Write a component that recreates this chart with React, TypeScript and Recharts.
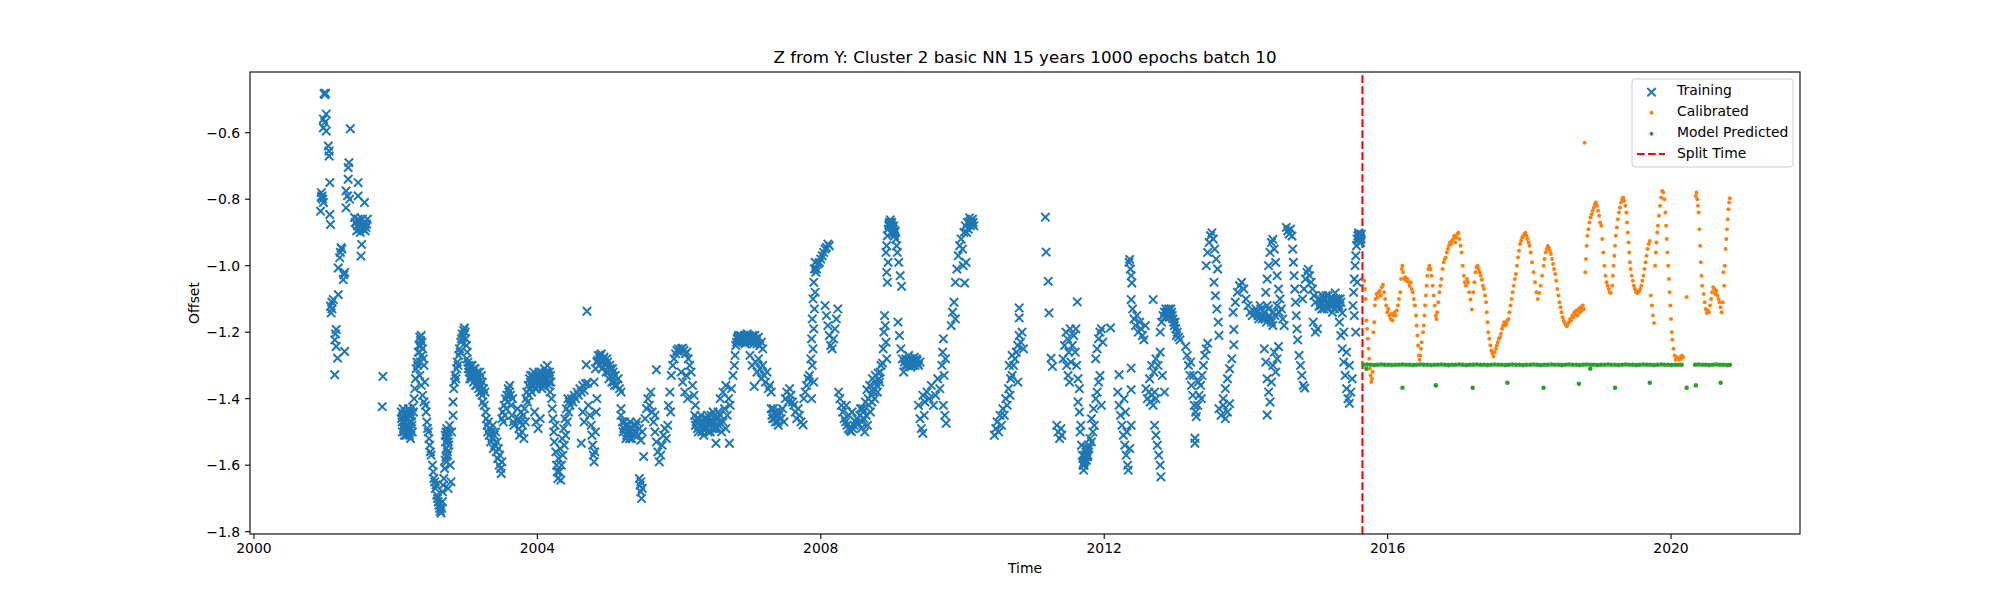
import { ScatterChart, Scatter, XAxis, YAxis, ReferenceLine } from 'recharts';

type Pt = [number, number];

const xTicks = [2000, 2004, 2008, 2012, 2016, 2020];
const yTicks = [-1.8, -1.6, -1.4, -1.2, -1.0, -0.8, -0.6];
const splitTime = 2015.645;

// Training (blue x), [decimal year, offset]
const training2001: Pt[] = [
  [2000.99, -0.482], [2001.0, -0.485], [2001.01, -0.481],
  [2001.02, -0.544], [2000.98, -0.559], [2001.0, -0.569], [2000.98, -0.585], [2001.02, -0.595],
  [2001.05, -0.64], [2001.06, -0.655], [2001.06, -0.67], [2001.07, -0.75],
  [2000.95, -0.78], [2000.96, -0.79], [2000.95, -0.795], [2000.98, -0.81], [2000.94, -0.836], [2001.07, -0.846], [2001.08, -0.876], [2000.97, -0.8],
  [2001.23, -0.946], [2001.24, -0.95], [2001.22, -0.96], [2001.21, -0.976], [2001.19, -1.007], [2001.27, -1.027], [2001.28, -1.02], [2001.26, -1.042],
  [2001.19, -1.087], [2001.12, -1.102], [2001.1, -1.11], [2001.08, -1.122], [2001.09, -1.142], [2001.1, -1.13],
  [2001.16, -1.192], [2001.15, -1.205], [2001.14, -1.223], [2001.16, -1.243], [2001.18, -1.278], [2001.28, -1.258], [2001.14, -1.328],
  [2001.36, -0.588],
  [2001.34, -0.69], [2001.33, -0.705], [2001.33, -0.74], [2001.3, -0.775], [2001.35, -0.8], [2001.3, -0.826], [2001.32, -0.79],
  [2001.47, -0.75], [2001.47, -0.79], [2001.56, -0.81],
  [2001.42, -0.855], [2001.44, -0.87], [2001.46, -0.88], [2001.48, -0.865], [2001.5, -0.885], [2001.52, -0.875], [2001.54, -0.89], [2001.56, -0.87], [2001.58, -0.885], [2001.6, -0.86], [2001.45, -0.895], [2001.5, -0.9],
  [2001.43, -0.87], [2001.47, -0.86], [2001.49, -0.89], [2001.53, -0.86], [2001.55, -0.88], [2001.57, -0.895], [2001.59, -0.875],
  [2001.52, -0.936], [2001.51, -0.971],
  [2001.82, -1.333], [2001.81, -1.424],
];

const training2002: Pt[] = [
  [2002.08, -1.44], [2002.09, -1.47], [2002.1, -1.455], [2002.11, -1.49], [2002.12, -1.5], [2002.13, -1.475], [2002.14, -1.445], [2002.15, -1.51], [2002.16, -1.485],
  [2002.17, -1.46], [2002.18, -1.43], [2002.19, -1.495], [2002.2, -1.47], [2002.21, -1.52], [2002.22, -1.45], [2002.23, -1.48], [2002.24, -1.425], [2002.25, -1.44],
  [2002.085, -1.46], [2002.095, -1.5], [2002.105, -1.43], [2002.115, -1.47], [2002.125, -1.51], [2002.135, -1.44], [2002.145, -1.49], [2002.155, -1.46],
  [2002.165, -1.5], [2002.175, -1.48], [2002.185, -1.45], [2002.195, -1.51], [2002.205, -1.44], [2002.215, -1.49], [2002.225, -1.47], [2002.235, -1.5],
  [2002.26, -1.4], [2002.27, -1.37], [2002.28, -1.34], [2002.29, -1.31], [2002.3, -1.29], [2002.31, -1.3], [2002.32, -1.26], [2002.33, -1.24], [2002.34, -1.215],
  [2002.35, -1.225], [2002.36, -1.21], [2002.37, -1.23], [2002.38, -1.25], [2002.39, -1.28], [2002.4, -1.3], [2002.34, -1.33], [2002.36, -1.36], [2002.38, -1.39], [2002.4, -1.41],
  [2002.335, -1.26], [2002.345, -1.29], [2002.355, -1.24], [2002.365, -1.27],
  [2002.41, -1.35], [2002.42, -1.42], [2002.43, -1.44], [2002.44, -1.47], [2002.45, -1.49], [2002.46, -1.5], [2002.47, -1.52], [2002.48, -1.54], [2002.49, -1.56], [2002.5, -1.57],
  [2002.52, -1.6], [2002.53, -1.62], [2002.54, -1.64], [2002.55, -1.65], [2002.56, -1.67], [2002.57, -1.66], [2002.58, -1.69], [2002.59, -1.7], [2002.6, -1.71],
  [2002.61, -1.72], [2002.62, -1.73], [2002.63, -1.738], [2002.64, -1.744], [2002.65, -1.73], [2002.66, -1.71],
  [2002.66, -1.68], [2002.67, -1.66], [2002.68, -1.64], [2002.69, -1.61], [2002.7, -1.585], [2002.71, -1.575], [2002.72, -1.59], [2002.73, -1.56], [2002.7, -1.51],
  [2002.71, -1.5], [2002.72, -1.49], [2002.73, -1.52], [2002.74, -1.5], [2002.75, -1.54], [2002.76, -1.48], [2002.77, -1.6], [2002.78, -1.65], [2002.79, -1.5], [2002.74, -1.67],
  [2002.705, -1.53], [2002.715, -1.55], [2002.725, -1.51], [2002.735, -1.57], [2002.745, -1.53],
  [2002.81, -1.41], [2002.81, -1.45],
  [2002.82, -1.37], [2002.83, -1.35], [2002.84, -1.33], [2002.85, -1.34], [2002.86, -1.31], [2002.87, -1.29], [2002.88, -1.3], [2002.89, -1.27], [2002.9, -1.25],
  [2002.91, -1.26], [2002.92, -1.23], [2002.93, -1.22], [2002.94, -1.205], [2002.95, -1.215], [2002.96, -1.195], [2002.97, -1.187], [2002.98, -1.2], [2002.99, -1.22],
];

const training2003: Pt[] = [
  [2003.0, -1.24], [2003.01, -1.26], [2003.02, -1.29], [2003.03, -1.3], [2003.04, -1.32], [2003.05, -1.31], [2003.06, -1.33], [2003.07, -1.34], [2003.08, -1.3],
  [2003.09, -1.32], [2003.1, -1.35], [2003.11, -1.33], [2003.12, -1.31], [2003.13, -1.34], [2003.14, -1.36], [2003.15, -1.32], [2003.16, -1.34], [2003.17, -1.37],
  [2003.18, -1.35], [2003.19, -1.38], [2003.2, -1.36], [2003.21, -1.33], [2003.22, -1.39], [2003.23, -1.41], [2003.24, -1.37], [2003.25, -1.42], [2003.26, -1.38], [2003.27, -1.44],
  [2003.005, -1.28], [2003.025, -1.31], [2003.045, -1.34], [2003.065, -1.3], [2003.085, -1.33], [2003.105, -1.31], [2003.125, -1.36], [2003.145, -1.33],
  [2003.165, -1.35], [2003.185, -1.32], [2003.205, -1.38], [2003.225, -1.35],
  [2003.28, -1.46], [2003.29, -1.48], [2003.3, -1.5], [2003.31, -1.47], [2003.32, -1.51], [2003.33, -1.49], [2003.34, -1.53], [2003.35, -1.5], [2003.36, -1.52],
  [2003.37, -1.48], [2003.38, -1.55], [2003.39, -1.51], [2003.4, -1.54], [2003.41, -1.5], [2003.42, -1.56], [2003.43, -1.53], [2003.44, -1.58], [2003.45, -1.55],
  [2003.46, -1.6], [2003.47, -1.57], [2003.48, -1.61], [2003.49, -1.625], [2003.5, -1.59],
  [2003.5, -1.46], [2003.51, -1.44], [2003.52, -1.47], [2003.53, -1.42], [2003.54, -1.45], [2003.55, -1.4], [2003.56, -1.43], [2003.57, -1.39], [2003.58, -1.41],
  [2003.59, -1.37], [2003.6, -1.38], [2003.61, -1.36], [2003.62, -1.39], [2003.63, -1.42], [2003.64, -1.45], [2003.65, -1.4], [2003.66, -1.47], [2003.67, -1.48],
  [2003.72, -1.43], [2003.73, -1.46], [2003.74, -1.49], [2003.75, -1.51], [2003.76, -1.47], [2003.77, -1.44], [2003.78, -1.5], [2003.79, -1.48], [2003.8, -1.45],
  [2003.81, -1.52], [2003.82, -1.43], [2003.83, -1.47],
  [2003.84, -1.4], [2003.85, -1.38], [2003.86, -1.41], [2003.87, -1.36], [2003.88, -1.39], [2003.89, -1.34], [2003.9, -1.37], [2003.91, -1.35], [2003.92, -1.38],
  [2003.93, -1.33], [2003.94, -1.36], [2003.95, -1.34], [2003.96, -1.44], [2003.97, -1.37], [2003.98, -1.47], [2003.99, -1.35],
  [2003.905, -1.33], [2003.925, -1.36], [2003.945, -1.32], [2003.965, -1.35], [2003.985, -1.37],
];

const training2004: Pt[] = [
  [2004.0, -1.34], [2004.01, -1.49], [2004.02, -1.36], [2004.03, -1.33], [2004.04, -1.46], [2004.05, -1.35], [2004.06, -1.32], [2004.07, -1.34], [2004.08, -1.36],
  [2004.09, -1.33], [2004.1, -1.31], [2004.11, -1.35], [2004.12, -1.32], [2004.13, -1.34], [2004.14, -1.3], [2004.15, -1.33], [2004.16, -1.36], [2004.17, -1.32],
  [2004.18, -1.38], [2004.19, -1.35], [2004.2, -1.4],
  [2004.005, -1.36], [2004.025, -1.32], [2004.045, -1.34], [2004.065, -1.37], [2004.085, -1.33], [2004.105, -1.36], [2004.125, -1.34], [2004.145, -1.32],
  [2004.165, -1.35], [2004.185, -1.33],
  [2004.21, -1.43], [2004.22, -1.46], [2004.23, -1.5], [2004.24, -1.53], [2004.25, -1.48], [2004.26, -1.56], [2004.27, -1.6], [2004.28, -1.62], [2004.29, -1.64],
  [2004.3, -1.58], [2004.31, -1.62], [2004.32, -1.55], [2004.33, -1.645], [2004.34, -1.6], [2004.35, -1.52], [2004.36, -1.57], [2004.37, -1.49], [2004.38, -1.54],
  [2004.39, -1.46], [2004.4, -1.51], [2004.41, -1.43], [2004.42, -1.47], [2004.43, -1.4], [2004.44, -1.44], [2004.45, -1.41],
  [2004.46, -1.42], [2004.48, -1.4], [2004.5, -1.41], [2004.52, -1.39], [2004.54, -1.4], [2004.56, -1.38], [2004.58, -1.39], [2004.6, -1.37], [2004.62, -1.38],
  [2004.64, -1.36], [2004.66, -1.375], [2004.68, -1.355], [2004.62, -1.534], [2004.64, -1.44], [2004.66, -1.47],
  [2004.7, -1.137], [2004.69, -1.298], [2004.71, -1.353],
  [2004.72, -1.42], [2004.74, -1.45], [2004.76, -1.48], [2004.77, -1.51], [2004.78, -1.54], [2004.79, -1.57], [2004.8, -1.59], [2004.81, -1.56], [2004.82, -1.5],
  [2004.83, -1.44], [2004.84, -1.4],
  [2004.8, -1.35], [2004.82, -1.31], [2004.84, -1.29], [2004.86, -1.27], [2004.88, -1.28], [2004.9, -1.265], [2004.92, -1.29], [2004.94, -1.275], [2004.96, -1.3],
  [2004.98, -1.28],
  [2004.85, -1.285], [2004.87, -1.3], [2004.89, -1.27], [2004.91, -1.31], [2004.93, -1.28], [2004.95, -1.295], [2004.97, -1.32], [2004.99, -1.29],
];

const training2005: Pt[] = [
  [2005.0, -1.32], [2005.02, -1.3], [2005.04, -1.33], [2005.06, -1.31], [2005.08, -1.35], [2005.1, -1.33], [2005.12, -1.36], [2005.14, -1.34], [2005.16, -1.37], [2005.18, -1.38],
  [2005.01, -1.34], [2005.03, -1.31], [2005.05, -1.35], [2005.07, -1.32], [2005.09, -1.36],
  [2005.18, -1.43], [2005.18, -1.45],
  [2005.2, -1.47], [2005.22, -1.49], [2005.24, -1.48], [2005.26, -1.51], [2005.28, -1.495], [2005.3, -1.52], [2005.32, -1.49], [2005.34, -1.505], [2005.36, -1.48],
  [2005.38, -1.5], [2005.4, -1.47], [2005.42, -1.51], [2005.44, -1.49], [2005.46, -1.525], [2005.48, -1.5], [2005.5, -1.574],
  [2005.21, -1.5], [2005.23, -1.47], [2005.25, -1.52], [2005.27, -1.48], [2005.29, -1.5], [2005.31, -1.47], [2005.33, -1.52], [2005.35, -1.49], [2005.37, -1.51], [2005.39, -1.48],
  [2005.44, -1.64], [2005.45, -1.66], [2005.46, -1.68], [2005.47, -1.7], [2005.48, -1.67], [2005.46, -1.65],
  [2005.52, -1.46], [2005.54, -1.43], [2005.56, -1.4], [2005.58, -1.42], [2005.6, -1.38], [2005.62, -1.44], [2005.64, -1.47], [2005.66, -1.45], [2005.68, -1.313],
  [2005.66, -1.5], [2005.68, -1.53], [2005.7, -1.56], [2005.72, -1.59], [2005.74, -1.57], [2005.76, -1.54], [2005.78, -1.51], [2005.8, -1.49], [2005.82, -1.52], [2005.84, -1.48],
  [2005.85, -1.42], [2005.87, -1.38], [2005.88, -1.44],
  [2005.89, -1.33], [2005.91, -1.3], [2005.93, -1.28], [2005.95, -1.265], [2005.97, -1.255], [2005.99, -1.25],
];

const training2006: Pt[] = [
  [2006.01, -1.26], [2006.03, -1.25], [2006.05, -1.248], [2006.07, -1.255], [2006.09, -1.265], [2006.11, -1.26], [2006.13, -1.28], [2006.15, -1.3], [2006.17, -1.32],
  [2006.03, -1.32], [2006.05, -1.35], [2006.08, -1.38], [2006.1, -1.33],
  [2006.19, -1.36], [2006.21, -1.39], [2006.23, -1.42], [2006.12, -1.4],
  [2006.22, -1.45], [2006.24, -1.47], [2006.26, -1.49], [2006.28, -1.46], [2006.3, -1.48], [2006.32, -1.5], [2006.34, -1.47], [2006.36, -1.46], [2006.38, -1.49],
  [2006.4, -1.45], [2006.42, -1.48], [2006.44, -1.5], [2006.46, -1.47], [2006.48, -1.44], [2006.5, -1.49], [2006.52, -1.534], [2006.54, -1.46], [2006.56, -1.48],
  [2006.58, -1.45], [2006.6, -1.5], [2006.62, -1.47], [2006.64, -1.43], [2006.66, -1.49], [2006.68, -1.45], [2006.71, -1.534],
  [2006.23, -1.48], [2006.25, -1.46], [2006.27, -1.5], [2006.29, -1.47], [2006.31, -1.45], [2006.33, -1.49], [2006.35, -1.51], [2006.37, -1.48], [2006.39, -1.46],
  [2006.41, -1.5], [2006.43, -1.47], [2006.45, -1.45], [2006.47, -1.49], [2006.49, -1.47], [2006.51, -1.46], [2006.53, -1.49], [2006.55, -1.44], [2006.57, -1.47],
  [2006.58, -1.4], [2006.62, -1.38], [2006.66, -1.36], [2006.7, -1.4], [2006.72, -1.42], [2006.74, -1.37], [2006.76, -1.33], [2006.78, -1.3], [2006.79, -1.27],
  [2006.8, -1.24], [2006.82, -1.22], [2006.84, -1.21], [2006.86, -1.225], [2006.88, -1.215], [2006.9, -1.23], [2006.92, -1.21], [2006.94, -1.22], [2006.96, -1.205], [2006.98, -1.225],
  [2006.81, -1.23], [2006.83, -1.215], [2006.85, -1.23], [2006.87, -1.21], [2006.89, -1.225], [2006.91, -1.215], [2006.93, -1.235], [2006.95, -1.215], [2006.97, -1.23], [2006.99, -1.21],
];

const training2007: Pt[] = [
  [2007.0, -1.215], [2007.02, -1.23], [2007.04, -1.21], [2007.06, -1.225], [2007.08, -1.22], [2007.1, -1.235], [2007.12, -1.215], [2007.14, -1.24], [2007.16, -1.23], [2007.18, -1.25],
  [2007.01, -1.225], [2007.03, -1.215], [2007.05, -1.235], [2007.07, -1.21], [2007.09, -1.225],
  [2007.0, -1.27], [2007.03, -1.3], [2007.06, -1.363], [2007.08, -1.29], [2007.1, -1.32], [2007.12, -1.28], [2007.14, -1.31], [2007.16, -1.34], [2007.18, -1.3],
  [2007.2, -1.33], [2007.22, -1.35], [2007.24, -1.32], [2007.26, -1.37], [2007.28, -1.36], [2007.3, -1.38],
  [2007.3, -1.43], [2007.32, -1.46], [2007.34, -1.445], [2007.36, -1.47], [2007.38, -1.45], [2007.4, -1.48], [2007.42, -1.44], [2007.44, -1.46], [2007.46, -1.43], [2007.48, -1.47],
  [2007.31, -1.45], [2007.33, -1.43], [2007.35, -1.46], [2007.37, -1.44], [2007.39, -1.47], [2007.41, -1.45],
  [2007.5, -1.4], [2007.52, -1.38], [2007.54, -1.41], [2007.56, -1.37], [2007.58, -1.39], [2007.6, -1.41], [2007.62, -1.42],
  [2007.64, -1.44], [2007.66, -1.46], [2007.68, -1.43], [2007.7, -1.45], [2007.72, -1.47], [2007.75, -1.479],
  [2007.76, -1.4], [2007.78, -1.38], [2007.8, -1.36], [2007.82, -1.34], [2007.84, -1.33],
  [2007.86, -1.28], [2007.87, -1.22], [2007.88, -1.16], [2007.89, -1.1], [2007.9, -1.05], [2007.91, -1.01], [2007.92, -0.99], [2007.88, -1.3], [2007.89, -1.25],
  [2007.9, -1.19], [2007.91, -1.13], [2007.92, -1.08], [2007.87, -1.4], [2007.9, -1.35], [2007.93, -1.02],
  [2007.94, -1.01], [2007.96, -0.995], [2007.98, -0.99],
];

const training2008: Pt[] = [
  [2008.0, -0.98], [2008.02, -0.97], [2008.04, -0.96], [2008.06, -0.95], [2008.08, -0.945], [2008.1, -0.935], [2008.12, -0.94],
  [2008.06, -1.12], [2008.08, -1.15], [2008.1, -1.18], [2008.12, -1.21], [2008.14, -1.24], [2008.16, -1.25], [2008.18, -1.22], [2008.2, -1.19], [2008.22, -1.16], [2008.24, -1.13],
  [2008.25, -1.38], [2008.27, -1.4], [2008.29, -1.42], [2008.31, -1.44], [2008.33, -1.46], [2008.35, -1.47], [2008.37, -1.48], [2008.39, -1.49], [2008.41, -1.495],
  [2008.43, -1.499], [2008.45, -1.49], [2008.47, -1.48], [2008.49, -1.47], [2008.51, -1.46], [2008.36, -1.42], [2008.4, -1.45], [2008.44, -1.44],
  [2008.53, -1.474], [2008.55, -1.45], [2008.57, -1.49], [2008.59, -1.43], [2008.61, -1.46], [2008.63, -1.41], [2008.65, -1.373], [2008.67, -1.4], [2008.69, -1.36],
  [2008.71, -1.39], [2008.73, -1.34], [2008.75, -1.37], [2008.77, -1.33], [2008.79, -1.36], [2008.81, -1.323], [2008.83, -1.35], [2008.85, -1.3], [2008.87, -1.293],
  [2008.62, -1.5], [2008.66, -1.48], [2008.7, -1.44],
  [2008.56, -1.43], [2008.58, -1.47], [2008.6, -1.44], [2008.64, -1.45], [2008.68, -1.42], [2008.72, -1.41], [2008.74, -1.38], [2008.76, -1.4], [2008.78, -1.35],
  [2008.8, -1.38], [2008.82, -1.34], [2008.84, -1.32],
  [2008.88, -1.25], [2008.89, -1.2], [2008.9, -1.15], [2008.91, -1.18], [2008.92, -1.23], [2008.93, -1.28],
  [2008.92, -0.96], [2008.93, -0.94], [2008.94, -0.91], [2008.95, -0.89], [2008.96, -0.88], [2008.97, -0.87], [2008.98, -0.862], [2008.99, -0.875],
  [2008.965, -0.875], [2008.985, -0.87],
  [2008.93, -1.02], [2008.94, -1.05], [2008.95, -0.99],
];

const training2009: Pt[] = [
  [2009.0, -0.87], [2009.01, -0.885], [2009.02, -0.9], [2009.03, -0.88], [2009.04, -0.91], [2009.05, -0.895], [2009.06, -0.92], [2009.07, -0.94], [2009.08, -0.96],
  [2009.005, -0.88], [2009.025, -0.89], [2009.045, -0.9],
  [2009.1, -0.99], [2009.12, -1.03], [2009.14, -1.062],
  [2009.09, -1.17], [2009.11, -1.21], [2009.13, -1.25], [2009.15, -1.28], [2009.17, -1.32],
  [2009.18, -1.29], [2009.2, -1.28], [2009.22, -1.3], [2009.24, -1.27], [2009.26, -1.29], [2009.28, -1.28], [2009.3, -1.3], [2009.32, -1.275], [2009.34, -1.29],
  [2009.36, -1.285], [2009.38, -1.3], [2009.4, -1.29],
  [2009.19, -1.3], [2009.21, -1.285], [2009.23, -1.295], [2009.25, -1.28], [2009.27, -1.305], [2009.29, -1.29], [2009.31, -1.285], [2009.33, -1.3], [2009.35, -1.28], [2009.37, -1.295],
  [2009.38, -1.42], [2009.4, -1.46], [2009.42, -1.49], [2009.44, -1.504], [2009.46, -1.45],
  [2009.44, -1.39], [2009.47, -1.41], [2009.5, -1.38], [2009.53, -1.4], [2009.56, -1.36], [2009.59, -1.42], [2009.62, -1.39], [2009.65, -1.34], [2009.68, -1.37],
  [2009.71, -1.3], [2009.72, -1.26], [2009.73, -1.22], [2009.74, -1.33], [2009.76, -1.28],
  [2009.73, -1.42], [2009.75, -1.45], [2009.77, -1.474],
  [2009.84, -1.18], [2009.86, -1.14], [2009.88, -1.11], [2009.9, -1.16],
  [2009.9, -1.05], [2009.92, -1.01], [2009.94, -0.97], [2009.96, -0.94], [2009.98, -0.92],
];

const training2010: Pt[] = [
  [2010.0, -0.95], [2010.02, -0.9], [2010.03, -1.052], [2010.04, -0.88], [2010.06, -0.9], [2010.07, -0.87], [2010.08, -0.89], [2010.1, -0.856], [2010.12, -0.87],
  [2010.14, -0.86], [2010.16, -0.88], [2010.05, -0.99], [2010.01, -1.0],
  [2010.09, -0.87], [2010.11, -0.865], [2010.13, -0.875], [2010.15, -0.87], [2010.11, -0.88],
  [2010.45, -1.51], [2010.47, -1.49], [2010.49, -1.47], [2010.51, -1.5], [2010.53, -1.45], [2010.55, -1.48], [2010.57, -1.43], [2010.59, -1.45], [2010.61, -1.4],
  [2010.63, -1.42], [2010.65, -1.37], [2010.67, -1.39], [2010.68, -1.34],
  [2010.7, -1.33], [2010.72, -1.3], [2010.74, -1.28], [2010.76, -1.26], [2010.78, -1.24], [2010.8, -1.21], [2010.82, -1.23], [2010.84, -1.2], [2010.86, -1.25],
  [2010.78, -1.35], [2010.8, -1.127], [2010.8, -1.157], [2010.66, -1.3], [2010.7, -1.27],
];

const training2011: Pt[] = [
  [2011.17, -0.854], [2011.18, -0.959], [2011.21, -1.047], [2011.22, -1.142], [2011.25, -1.278], [2011.27, -1.303],
  [2011.33, -1.48], [2011.35, -1.5], [2011.37, -1.52], [2011.39, -1.49], [2011.4, -1.51],
  [2011.42, -1.28], [2011.44, -1.24], [2011.46, -1.2], [2011.48, -1.22], [2011.5, -1.26], [2011.52, -1.19],
  [2011.47, -1.3], [2011.49, -1.33], [2011.51, -1.35], [2011.53, -1.29], [2011.55, -1.24], [2011.57, -1.21], [2011.59, -1.26], [2011.61, -1.3], [2011.62, -1.109],
  [2011.63, -1.34], [2011.65, -1.37], [2011.6, -1.19],
  [2011.63, -1.41], [2011.65, -1.44], [2011.67, -1.48],
  [2011.66, -1.5], [2011.68, -1.54], [2011.69, -1.57], [2011.7, -1.6], [2011.71, -1.615], [2011.72, -1.59], [2011.73, -1.575], [2011.74, -1.56], [2011.75, -1.585],
  [2011.76, -1.55], [2011.77, -1.57], [2011.78, -1.54], [2011.8, -1.52], [2011.82, -1.53], [2011.84, -1.5], [2011.86, -1.48],
  [2011.705, -1.595], [2011.715, -1.6], [2011.725, -1.57], [2011.735, -1.585], [2011.745, -1.57], [2011.755, -1.56], [2011.765, -1.575], [2011.785, -1.55],
  [2011.82, -1.46], [2011.85, -1.43], [2011.88, -1.4], [2011.9, -1.38], [2011.92, -1.35], [2011.94, -1.33], [2011.96, -1.42],
  [2011.88, -1.28], [2011.9, -1.25], [2011.92, -1.22], [2011.94, -1.2], [2011.96, -1.19], [2011.98, -1.23],
];

const training2012: Pt[] = [
  [2012.09, -1.187], [2012.21, -1.328],
  [2012.19, -1.38], [2012.21, -1.42], [2012.23, -1.45], [2012.25, -1.48], [2012.27, -1.51], [2012.29, -1.54], [2012.31, -1.57], [2012.33, -1.6], [2012.34, -1.615],
  [2012.32, -1.5], [2012.3, -1.44], [2012.36, -1.55], [2012.38, -1.48], [2012.28, -1.4],
  [2012.35, -0.99], [2012.36, -0.981], [2012.37, -1.01], [2012.38, -1.03], [2012.39, -1.052],
  [2012.38, -1.102], [2012.4, -1.13], [2012.42, -1.16], [2012.44, -1.18], [2012.46, -1.15], [2012.48, -1.2], [2012.5, -1.17], [2012.52, -1.19], [2012.54, -1.21],
  [2012.56, -1.223], [2012.58, -1.18], [2012.38, -1.308], [2012.38, -1.373],
  [2012.59, -1.37], [2012.61, -1.4], [2012.63, -1.38], [2012.65, -1.41], [2012.67, -1.39], [2012.69, -1.42], [2012.71, -1.38], [2012.73, -1.4],
  [2012.64, -1.34], [2012.67, -1.3], [2012.7, -1.32], [2012.73, -1.28], [2012.76, -1.3], [2012.79, -1.26], [2012.82, -1.33], [2012.85, -1.38],
  [2012.71, -1.48], [2012.73, -1.51], [2012.75, -1.54], [2012.77, -1.57], [2012.79, -1.6], [2012.8, -1.635], [2012.69, -1.102],
  [2012.79, -1.2], [2012.81, -1.17], [2012.83, -1.15], [2012.85, -1.14], [2012.87, -1.13], [2012.89, -1.15], [2012.91, -1.13], [2012.93, -1.145], [2012.95, -1.14],
  [2012.97, -1.16], [2012.99, -1.18],
  [2012.86, -1.155], [2012.88, -1.14], [2012.9, -1.14], [2012.92, -1.155], [2012.94, -1.13], [2012.96, -1.15], [2012.98, -1.17],
];

const training2013: Pt[] = [
  [2013.01, -1.19], [2013.03, -1.2], [2013.05, -1.215], [2013.07, -1.223], [2013.0, -1.17], [2013.02, -1.21],
  [2013.15, -1.243], [2013.17, -1.27], [2013.19, -1.3], [2013.21, -1.33], [2013.23, -1.36], [2013.25, -1.39], [2013.27, -1.42], [2013.29, -1.44], [2013.3, -1.454],
  [2013.32, -1.42], [2013.34, -1.39], [2013.36, -1.36], [2013.38, -1.33], [2013.4, -1.3], [2013.42, -1.27], [2013.44, -1.25], [2013.46, -1.233],
  [2013.22, -1.29], [2013.26, -1.33], [2013.33, -1.35], [2013.37, -1.4], [2013.28, -1.519], [2013.28, -1.534],
  [2013.44, -1.0], [2013.46, -0.96], [2013.48, -0.93], [2013.5, -0.91], [2013.52, -0.901], [2013.54, -0.92], [2013.56, -0.95], [2013.58, -0.98], [2013.6, -1.01],
  [2013.55, -1.05], [2013.57, -1.09], [2013.59, -1.13], [2013.61, -1.17], [2013.62, -1.21],
  [2013.62, -1.43], [2013.65, -1.45], [2013.68, -1.42], [2013.71, -1.46], [2013.74, -1.44], [2013.77, -1.415],
  [2013.68, -1.4], [2013.71, -1.37], [2013.74, -1.34], [2013.77, -1.31], [2013.8, -1.28], [2013.83, -1.192], [2013.83, -1.238],
  [2013.82, -1.14], [2013.85, -1.11], [2013.88, -1.08], [2013.91, -1.06], [2013.94, -1.05], [2013.97, -1.07],
];

const training2014: Pt[] = [
  [2014.0, -1.1], [2014.03, -1.12], [2014.06, -1.14], [2014.09, -1.15],
  [2014.14, -1.13], [2014.17, -1.15], [2014.2, -1.12], [2014.23, -1.16], [2014.26, -1.14], [2014.29, -1.17], [2014.32, -1.13], [2014.35, -1.16], [2014.38, -1.18],
  [2014.41, -1.15], [2014.44, -1.12], [2014.47, -1.14],
  [2014.15, -1.14], [2014.18, -1.16], [2014.21, -1.13], [2014.24, -1.15], [2014.27, -1.16], [2014.3, -1.12], [2014.33, -1.15], [2014.36, -1.17], [2014.39, -1.14],
  [2014.28, -1.08], [2014.3, -1.04], [2014.32, -1.0], [2014.34, -0.96], [2014.36, -0.93], [2014.38, -0.921], [2014.4, -0.95], [2014.42, -0.99], [2014.44, -1.03], [2014.46, -1.07],
  [2014.26, -1.25], [2014.28, -1.29], [2014.3, -1.34], [2014.3, -1.449], [2014.32, -1.38], [2014.34, -1.41], [2014.36, -1.35], [2014.38, -1.3], [2014.4, -1.26],
  [2014.42, -1.32], [2014.44, -1.28], [2014.46, -1.243],
  [2014.48, -1.1], [2014.5, -1.13], [2014.52, -1.16], [2014.54, -1.18],
  [2014.57, -0.885], [2014.59, -0.895], [2014.61, -0.905], [2014.63, -0.89], [2014.65, -0.911],
  [2014.66, -0.95], [2014.67, -0.99], [2014.68, -1.03], [2014.69, -1.07], [2014.7, -1.11], [2014.71, -1.15], [2014.72, -1.19], [2014.73, -1.223],
  [2014.75, -1.27], [2014.77, -1.3], [2014.79, -1.33], [2014.81, -1.36], [2014.83, -1.368],
  [2014.8, -1.1], [2014.82, -1.07], [2014.84, -1.04], [2014.86, -1.02], [2014.88, -1.011], [2014.9, -1.03], [2014.92, -1.05], [2014.94, -1.07], [2014.96, -1.09], [2014.98, -1.11],
  [2014.95, -1.17], [2014.98, -1.2],
];

const training2015: Pt[] = [
  [2015.01, -1.19], [2015.03, -1.122],
  [2015.04, -1.1], [2015.06, -1.12], [2015.08, -1.09], [2015.1, -1.13], [2015.12, -1.1], [2015.14, -1.115], [2015.16, -1.09], [2015.18, -1.12], [2015.2, -1.1],
  [2015.22, -1.14], [2015.24, -1.11], [2015.26, -1.082], [2015.28, -1.12], [2015.3, -1.1], [2015.32, -1.13], [2015.34, -1.11], [2015.36, -1.142],
  [2015.05, -1.11], [2015.07, -1.13], [2015.09, -1.1], [2015.11, -1.12], [2015.13, -1.09], [2015.15, -1.13], [2015.17, -1.11], [2015.19, -1.1],
  [2015.21, -1.12], [2015.23, -1.1], [2015.25, -1.13], [2015.27, -1.1], [2015.29, -1.11], [2015.31, -1.12], [2015.33, -1.1],
  [2015.32, -1.17], [2015.34, -1.21], [2015.36, -1.25], [2015.38, -1.29], [2015.4, -1.33], [2015.42, -1.37], [2015.44, -1.4], [2015.46, -1.414], [2015.48, -1.38],
  [2015.5, -1.34], [2015.38, -1.2], [2015.42, -1.26], [2015.46, -1.3],
  [2015.51, -1.12], [2015.52, -1.08], [2015.53, -1.04], [2015.54, -1.0], [2015.55, -0.97], [2015.56, -0.94], [2015.57, -0.92], [2015.58, -0.91], [2015.59, -0.901],
  [2015.6, -0.92], [2015.61, -0.91], [2015.62, -0.93], [2015.63, -0.905], [2015.53, -1.15], [2015.55, -1.2], [2015.57, -1.05],
  [2015.585, -0.92], [2015.595, -0.905], [2015.605, -0.93], [2015.615, -0.915], [2015.625, -0.92],
];

// Calibrated (orange dots)
const calibrated2016: Pt[] = [
  [2015.67, -1.045], [2015.68, -1.07], [2015.69, -1.1], [2015.7, -1.165], [2015.71, -1.19], [2015.72, -1.22], [2015.73, -1.25], [2015.74, -1.28], [2015.75, -1.31],
  [2015.76, -1.33], [2015.77, -1.35], [2015.78, -1.34], [2015.79, -1.32], [2015.8, -1.2], [2015.81, -1.17], [2015.82, -1.12], [2015.83, -1.1], [2015.845, -1.085],
  [2015.86, -1.095], [2015.875, -1.08], [2015.89, -1.075], [2015.905, -1.09], [2015.92, -1.065], [2015.935, -1.057], [2015.95, -1.08], [2015.965, -1.1],
  [2015.98, -1.12], [2015.995, -1.14], [2016.01, -1.13], [2016.025, -1.15], [2016.04, -1.16], [2016.055, -1.145], [2016.07, -1.165], [2016.085, -1.15],
  [2016.1, -1.14], [2016.115, -1.15], [2016.13, -1.135], [2016.145, -1.12], [2016.16, -1.1],
  [2016.18, -1.08], [2016.19, -1.04], [2016.2, -1.01], [2016.21, -1.0], [2016.22, -1.02], [2016.235, -1.04], [2016.25, -1.035], [2016.265, -1.045], [2016.28, -1.04],
  [2016.295, -1.05], [2016.31, -1.06], [2016.325, -1.05], [2016.34, -1.07], [2016.355, -1.08], [2016.37, -1.1], [2016.385, -1.12], [2016.4, -1.15], [2016.41, -1.18],
  [2016.42, -1.21], [2016.43, -1.24], [2016.44, -1.27], [2016.45, -1.283], [2016.46, -1.27], [2016.47, -1.25], [2016.48, -1.23], [2016.5, -1.2], [2016.51, -1.18],
  [2016.52, -1.15], [2016.53, -1.12], [2016.54, -1.09], [2016.55, -1.06], [2016.56, -1.03], [2016.575, -1.01], [2016.59, -1.0], [2016.605, -1.01], [2016.62, -1.03],
  [2016.635, -1.06], [2016.65, -1.09], [2016.665, -1.12], [2016.68, -1.15], [2016.69, -1.16], [2016.7, -1.14], [2016.715, -1.11], [2016.73, -1.08], [2016.745, -1.06],
  [2016.76, -1.04], [2016.775, -1.01], [2016.79, -0.99], [2016.805, -0.98], [2016.82, -0.975], [2016.835, -0.96], [2016.85, -0.95], [2016.865, -0.94], [2016.88, -0.93],
  [2016.895, -0.935], [2016.91, -0.925], [2016.925, -0.92], [2016.94, -0.91], [2016.955, -0.93], [2016.97, -0.915], [2016.985, -0.905],
];

const calibrated2017: Pt[] = [
  [2017.0, -0.901], [2017.015, -0.92], [2017.03, -0.94], [2017.045, -0.96], [2017.06, -1.0], [2017.075, -1.03], [2017.09, -1.05], [2017.105, -1.06], [2017.12, -1.04],
  [2017.135, -1.05], [2017.15, -1.08], [2017.17, -1.102], [2017.19, -1.132], [2017.21, -1.08], [2017.225, -1.05], [2017.24, -1.02], [2017.255, -1.005], [2017.27, -1.0],
  [2017.285, -1.01], [2017.3, -1.02], [2017.315, -1.03], [2017.33, -1.042], [2017.345, -1.06], [2017.36, -1.07], [2017.375, -1.09], [2017.39, -1.11], [2017.4, -1.14],
  [2017.41, -1.17], [2017.42, -1.2], [2017.435, -1.22], [2017.45, -1.24], [2017.465, -1.255], [2017.48, -1.265], [2017.495, -1.273], [2017.51, -1.26], [2017.525, -1.25],
  [2017.54, -1.24], [2017.555, -1.23], [2017.57, -1.22], [2017.585, -1.215], [2017.6, -1.205], [2017.615, -1.19], [2017.63, -1.18], [2017.645, -1.17], [2017.66, -1.18],
  [2017.675, -1.175], [2017.69, -1.165], [2017.705, -1.16], [2017.72, -1.14], [2017.735, -1.12], [2017.75, -1.1], [2017.765, -1.08], [2017.78, -1.06], [2017.795, -1.04],
  [2017.81, -1.025], [2017.825, -1.0], [2017.84, -0.975], [2017.855, -0.955], [2017.87, -0.935], [2017.885, -0.925], [2017.9, -0.915], [2017.915, -0.91], [2017.93, -0.905],
  [2017.945, -0.901], [2017.96, -0.91], [2017.975, -0.92], [2017.99, -0.93],
];

const calibrated2018: Pt[] = [
  [2018.005, -0.94], [2018.02, -0.96], [2018.04, -0.99], [2018.06, -1.02], [2018.08, -1.05], [2018.1, -1.08], [2018.12, -1.1], [2018.14, -1.082],
  [2018.16, -1.06], [2018.18, -1.03], [2018.2, -1.0], [2018.215, -0.98], [2018.23, -0.96], [2018.245, -0.95], [2018.26, -0.941], [2018.275, -0.945], [2018.29, -0.955],
  [2018.305, -0.965], [2018.32, -0.98], [2018.335, -0.995], [2018.35, -1.01], [2018.365, -1.025], [2018.38, -1.045], [2018.395, -1.07], [2018.41, -1.09], [2018.425, -1.11],
  [2018.44, -1.125], [2018.455, -1.14], [2018.47, -1.155], [2018.485, -1.165], [2018.5, -1.172], [2018.515, -1.178], [2018.53, -1.182], [2018.545, -1.175], [2018.56, -1.17],
  [2018.575, -1.16], [2018.59, -1.165], [2018.605, -1.15], [2018.62, -1.155], [2018.635, -1.14], [2018.65, -1.145], [2018.665, -1.135], [2018.68, -1.15], [2018.695, -1.13],
  [2018.71, -1.14], [2018.725, -1.125], [2018.74, -1.135], [2018.755, -1.12], [2018.77, -1.13], [2018.78, -0.63],
  [2018.79, -1.02], [2018.8, -0.98], [2018.81, -0.94], [2018.82, -0.91], [2018.835, -0.89], [2018.85, -0.87], [2018.865, -0.855], [2018.88, -0.845], [2018.895, -0.835],
  [2018.91, -0.825], [2018.925, -0.815], [2018.94, -0.81], [2018.955, -0.82], [2018.97, -0.835], [2018.985, -0.85],
];

const calibrated2019: Pt[] = [
  [2019.0, -0.87], [2019.015, -0.88], [2019.03, -0.92], [2019.045, -0.96], [2019.06, -1.0], [2019.075, -1.03], [2019.09, -1.05], [2019.105, -1.06], [2019.12, -1.07],
  [2019.135, -1.08], [2019.15, -1.082], [2019.17, -1.06], [2019.18, -1.03], [2019.19, -1.0], [2019.2, -0.97], [2019.21, -0.94], [2019.22, -0.91], [2019.235, -0.885],
  [2019.25, -0.86], [2019.265, -0.84], [2019.28, -0.825], [2019.295, -0.81], [2019.31, -0.8], [2019.325, -0.795], [2019.34, -0.805], [2019.355, -0.82], [2019.37, -0.84],
  [2019.38, -0.87], [2019.39, -0.9], [2019.4, -0.93], [2019.41, -0.96], [2019.42, -0.99], [2019.43, -1.01], [2019.445, -1.03], [2019.46, -1.045], [2019.475, -1.06],
  [2019.49, -1.07], [2019.505, -1.078], [2019.52, -1.082], [2019.535, -1.08], [2019.55, -1.075], [2019.565, -1.07], [2019.58, -1.06], [2019.595, -1.045], [2019.61, -1.03],
  [2019.625, -1.01], [2019.64, -0.99], [2019.655, -0.97], [2019.67, -0.95], [2019.685, -0.935], [2019.7, -0.926],
  [2019.715, -1.09], [2019.73, -1.12], [2019.745, -1.15], [2019.76, -1.172], [2019.775, -1.0], [2019.785, -0.96], [2019.795, -0.93], [2019.805, -0.9], [2019.815, -0.88],
  [2019.83, -0.85], [2019.845, -0.82], [2019.86, -0.795], [2019.875, -0.775], [2019.89, -0.78], [2019.905, -0.8], [2019.92, -0.84], [2019.93, -0.88], [2019.94, -0.92],
  [2019.95, -0.96], [2019.96, -1.0], [2019.97, -1.04], [2019.98, -1.08], [2019.99, -1.12],
];

const calibrated2020: Pt[] = [
  [2020.0, -1.16], [2020.01, -1.2], [2020.02, -1.223], [2020.035, -1.25], [2020.05, -1.27], [2020.065, -1.283], [2020.08, -1.275], [2020.095, -1.28], [2020.11, -1.283],
  [2020.125, -1.275], [2020.14, -1.28], [2020.155, -1.27], [2020.17, -1.275], [2020.22, -1.094],
  [2020.35, -0.79], [2020.36, -0.78], [2020.37, -0.8], [2020.38, -0.82], [2020.39, -0.84], [2020.4, -0.89], [2020.41, -0.94], [2020.42, -0.99], [2020.43, -1.03],
  [2020.44, -1.06], [2020.46, -1.085], [2020.475, -1.11], [2020.49, -1.13], [2020.505, -1.142], [2020.52, -1.135], [2020.535, -1.14], [2020.55, -1.12], [2020.565, -1.1],
  [2020.58, -1.08], [2020.595, -1.065], [2020.61, -1.07], [2020.625, -1.085], [2020.64, -1.075], [2020.655, -1.09], [2020.67, -1.1], [2020.685, -1.11], [2020.7, -1.125],
  [2020.715, -1.14], [2020.73, -1.11], [2020.74, -1.02], [2020.75, -1.06], [2020.76, -1.0], [2020.77, -0.95], [2020.78, -0.92], [2020.79, -0.89], [2020.8, -0.86],
  [2020.81, -0.83], [2020.82, -0.81], [2020.83, -0.797],
];

// Model predicted (green dots): the flat band and the few low points
const predictedBand: Pt[] = [
  [2015.66, -1.298], [2015.71, -1.297], [2015.76, -1.298], [2015.81, -1.299], [2015.86, -1.298], [2015.91, -1.297], [2015.96, -1.298], [2016.01, -1.298], [2016.06, -1.299], [2016.11, -1.298],
  [2016.16, -1.298], [2016.21, -1.297], [2016.26, -1.298], [2016.31, -1.298], [2016.36, -1.299], [2016.41, -1.298], [2016.46, -1.297], [2016.51, -1.298], [2016.56, -1.298], [2016.61, -1.299],
  [2016.66, -1.298], [2016.71, -1.298], [2016.76, -1.297], [2016.81, -1.298], [2016.86, -1.299], [2016.91, -1.298], [2016.96, -1.298], [2017.01, -1.297], [2017.06, -1.298], [2017.11, -1.299],
  [2017.16, -1.298], [2017.21, -1.298], [2017.26, -1.297], [2017.31, -1.298], [2017.36, -1.298], [2017.41, -1.299], [2017.46, -1.298], [2017.51, -1.297], [2017.56, -1.298], [2017.61, -1.298],
  [2017.66, -1.299], [2017.71, -1.298], [2017.76, -1.297], [2017.81, -1.298], [2017.86, -1.298], [2017.91, -1.299], [2017.96, -1.298], [2018.01, -1.298], [2018.06, -1.297], [2018.11, -1.298],
  [2018.16, -1.299], [2018.21, -1.298], [2018.26, -1.298], [2018.31, -1.297], [2018.36, -1.298], [2018.41, -1.298], [2018.46, -1.299], [2018.51, -1.298], [2018.56, -1.297], [2018.61, -1.298],
  [2018.66, -1.298], [2018.71, -1.299], [2018.76, -1.298], [2018.81, -1.297], [2018.86, -1.298], [2018.91, -1.298], [2018.96, -1.299], [2019.01, -1.298], [2019.06, -1.298], [2019.11, -1.297],
  [2019.16, -1.298], [2019.21, -1.298], [2019.26, -1.299], [2019.31, -1.298], [2019.36, -1.297], [2019.41, -1.298], [2019.46, -1.298], [2019.51, -1.299], [2019.56, -1.298], [2019.61, -1.297],
  [2019.66, -1.298], [2019.71, -1.298], [2019.76, -1.299], [2019.81, -1.298], [2019.86, -1.297], [2019.91, -1.298], [2019.96, -1.298], [2020.01, -1.299], [2020.06, -1.298], [2020.11, -1.298],
  [2020.15, -1.298],
  [2020.34, -1.298], [2020.39, -1.297], [2020.44, -1.298], [2020.49, -1.298], [2020.54, -1.299], [2020.59, -1.298], [2020.64, -1.297], [2020.69, -1.298], [2020.74, -1.298], [2020.79, -1.299],
  [2020.83, -1.298],
];

const predictedLow: Pt[] = [
  [2015.7, -1.31], [2016.21, -1.367], [2016.68, -1.36], [2017.2, -1.367], [2017.69, -1.352], [2018.2, -1.367], [2018.7, -1.355],
  [2018.86, -1.31], [2019.21, -1.367], [2019.7, -1.352], [2020.22, -1.367], [2020.35, -1.36], [2020.7, -1.352],
];

const toPoints = (rows: Pt[]) => rows.map(([x, y]) => ({ x, y }));

const trainingData = toPoints([
  ...training2001, ...training2002, ...training2003, ...training2004, ...training2005,
  ...training2006, ...training2007, ...training2008, ...training2009, ...training2010,
  ...training2011, ...training2012, ...training2013, ...training2014, ...training2015,
]);
const calibratedData = toPoints([...calibrated2016, ...calibrated2017, ...calibrated2018, ...calibrated2019, ...calibrated2020]);
const predictedData = toPoints([...predictedBand, ...predictedLow]);

const BLUE = '#1f77b4';
const ORANGE = '#ff7f0e';
const GREEN = '#2ca02c';
const FONT = '"DejaVu Sans", sans-serif';

const W = 2000;
const H = 600;
const PLOT = { left: 250, top: 72, right: 1800, bottom: 534 };

const formatY = (v: number) => (v < 0 ? '\u2212' : '') + Math.abs(v).toFixed(1);

function XMark(props: any) {
  const { cx, cy } = props;
  if (cx == null || cy == null) return null;
  const r = 4.2;
  return (
    <path
      d={`M${cx - r},${cy - r}L${cx + r},${cy + r}M${cx - r},${cy + r}L${cx + r},${cy - r}`}
      stroke={BLUE}
      strokeWidth={2}
      fill="none"
    />
  );
}

const makeDot = (color: string, r: number) => (props: any) => {
  const { cx, cy } = props;
  if (cx == null || cy == null) return null;
  return <circle cx={cx} cy={cy} r={r} fill={color} />;
};

function Legend() {
  const x0 = 1632;
  const y0 = 79;
  const mx = 1651.5;
  const tx = 1677;
  const rows = [95, 116, 137, 158];
  return (
    <g fontFamily={FONT} fontSize={13.9} fill="#000">
      <rect x={x0} y={y0} width={161} height={88} rx={3} fill="#fff" fillOpacity={0.8} stroke="#cccccc" strokeWidth={1} />
      <path d={`M${mx - 4.2},${rows[0] - 7}L${mx + 4.2},${rows[0] + 1.4}M${mx - 4.2},${rows[0] + 1.4}L${mx + 4.2},${rows[0] - 7}`} stroke={BLUE} strokeWidth={2} />
      <text x={tx} y={rows[0]}>Training</text>
      <circle cx={mx} cy={rows[1] - 3.3} r={2} fill={ORANGE} />
      <text x={tx} y={rows[1]}>Calibrated</text>
      <circle cx={mx} cy={rows[2] - 3.3} r={2} fill={GREEN} />
      <text x={tx} y={rows[2]}>Model Predicted</text>
      <line x1={1637} y1={rows[3] - 4} x2={1665} y2={rows[3] - 4} stroke="#ff0000" strokeWidth={2.1} strokeDasharray="7.7 3.3" />
      <text x={tx} y={rows[3]}>Split Time</text>
    </g>
  );
}

export default function App() {
  const tickStyle = { fontSize: 13.9, fill: '#000', fontFamily: FONT };
  return (
    <div style={{ position: 'absolute', left: 0, top: 0, width: W, height: H, background: '#fff' }}>
      <ScatterChart width={W} height={H} margin={{ top: PLOT.top, right: W - PLOT.right, bottom: 0, left: 0 }}>
        <XAxis
          type="number"
          dataKey="x"
          domain={[1999.944, 2021.82]}
          allowDataOverflow
          ticks={xTicks}
          tickFormatter={(v: number) => String(v)}
          height={H - PLOT.bottom}
          axisLine={false}
          tickLine={{ stroke: '#000', strokeWidth: 1.1 }}
          tickSize={5}
          tickMargin={4}
          tick={tickStyle}
        />
        <YAxis
          type="number"
          dataKey="y"
          domain={[-1.807, -0.4174]}
          allowDataOverflow
          ticks={yTicks}
          tickFormatter={formatY}
          width={PLOT.left}
          axisLine={false}
          tickLine={{ stroke: '#000', strokeWidth: 1.1 }}
          tickSize={5}
          tickMargin={5}
          tick={tickStyle}
        />
        <Scatter name="Training" data={trainingData} shape={XMark} isAnimationActive={false} />
        <Scatter name="Calibrated" data={calibratedData} shape={makeDot(ORANGE, 2)} isAnimationActive={false} />
        <Scatter name="Model Predicted" data={predictedData} shape={makeDot(GREEN, 2.3)} isAnimationActive={false} />
        <ReferenceLine x={splitTime} stroke="#ff0000" strokeWidth={2.1} strokeDasharray="7.7 3.3" />
      </ScatterChart>
      <svg width={W} height={H} style={{ position: 'absolute', left: 0, top: 0, pointerEvents: 'none' }}>
        <rect
          x={PLOT.left}
          y={PLOT.top}
          width={PLOT.right - PLOT.left}
          height={PLOT.bottom - PLOT.top}
          fill="none"
          stroke="#000"
          strokeWidth={1.1}
        />
        <text x={1025} y={63} textAnchor="middle" fontFamily={FONT} fontSize={16.7} fill="#000">
          Z from Y: Cluster 2 basic NN 15 years 1000 epochs batch 10
        </text>
        <text x={1025} y={573} textAnchor="middle" fontFamily={FONT} fontSize={13.9} fill="#000">
          Time
        </text>
        <text x={199} y={303} textAnchor="middle" fontFamily={FONT} fontSize={13.9} fill="#000" transform="rotate(-90 199 303)">
          Offset
        </text>
        <Legend />
      </svg>
    </div>
  );
}
